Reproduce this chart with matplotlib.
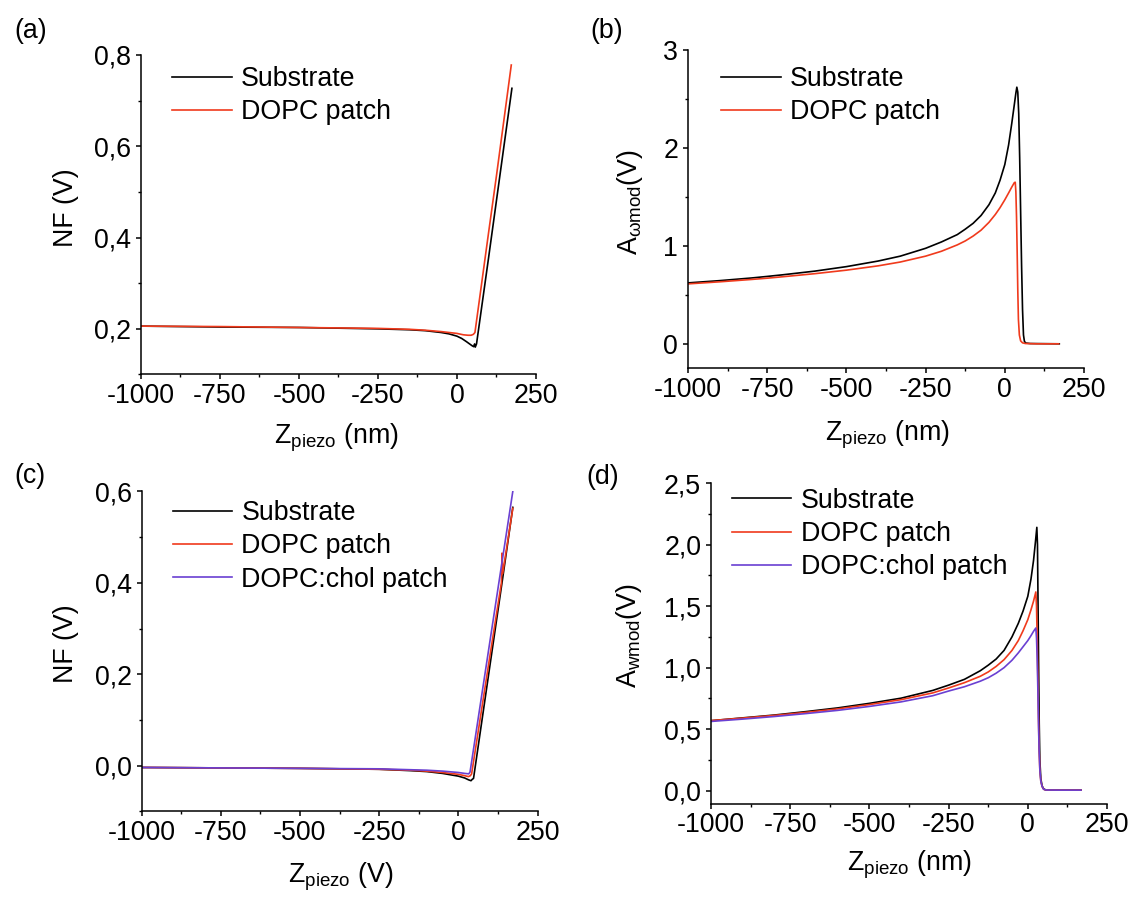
import matplotlib
matplotlib.use("Agg")
import matplotlib.pyplot as plt
from matplotlib.ticker import FuncFormatter

plt.rcParams.update({
    "font.family": ["Liberation Sans", "DejaVu Sans"],
    "mathtext.fontset": "custom",
    "mathtext.rm": "Liberation Sans",
    "mathtext.it": "Liberation Sans:italic",
    "mathtext.bf": "Liberation Sans:bold",
    "axes.unicode_minus": False,
})

FS = 19.3
BLACK = "#000000"
RED = "#F03A1C"
PURPLE = "#6A40D2"

# ---------------- data ----------------
x_ticks = [-1000, -750, -500, -250, 0, 250]
x_minor = [-875, -625, -375, -125, 125]
series_labels = ["Substrate", "DOPC patch", "DOPC:chol patch"]

# (a) normal force, substrate vs DOPC patch
a_sub_x = [-1000, -750, -500, -250, -150, -100, -50, -25, 0, 15, 30, 40, 48, 53, 56, 58, 62, 100, 134, 174]
a_sub_y = [0.206, 0.204, 0.203, 0.200, 0.198, 0.196, 0.192, 0.189, 0.184, 0.179, 0.172, 0.167, 0.163, 0.161,
           0.167, 0.160, 0.167, 0.355, 0.526, 0.727]
a_dopc_x = [-1000, -750, -500, -250, -150, -100, -50, 0, 20, 35, 45, 52, 57, 100, 125, 172]
a_dopc_y = [0.206, 0.205, 0.203, 0.201, 0.199, 0.197, 0.194, 0.190, 0.187, 0.186, 0.186, 0.188, 0.192,
            0.410, 0.535, 0.778]
a_yticks = [0.2, 0.4, 0.6, 0.8]
a_yminor = [0.1, 0.3, 0.5, 0.7]

# (b) modulation amplitude, substrate vs DOPC patch
b_sub_x = [-1000, -900, -800, -750, -700, -600, -500, -400, -330, -250, -200, -150, -125, -100, -75, -50, -30,
           -15, 0, 12, 22, 30, 35, 38, 41, 44, 47, 50, 53, 56, 59, 62, 66, 80, 172]
b_sub_y = [0.622, 0.645, 0.672, 0.688, 0.705, 0.742, 0.788, 0.845, 0.895, 0.975, 1.04, 1.115, 1.17, 1.23, 1.31,
           1.42, 1.54, 1.67, 1.83, 2.03, 2.25, 2.44, 2.56, 2.62, 2.57, 2.35, 1.90, 1.35, 0.80, 0.35, 0.09, 0.025,
           0.008, 0.003, 0.0]
b_dopc_x = [-1000, -900, -800, -750, -700, -600, -500, -400, -330, -250, -200, -150, -125, -100, -75, -50, -30,
            -15, 0, 12, 22, 30, 33, 35, 37, 39, 41, 43, 46, 50, 56, 65, 100, 170]
b_dopc_y = [0.612, 0.633, 0.657, 0.670, 0.685, 0.716, 0.752, 0.796, 0.835, 0.895, 0.945, 1.01, 1.05, 1.10, 1.16,
            1.24, 1.32, 1.39, 1.47, 1.54, 1.60, 1.645, 1.65, 1.55, 1.30, 0.95, 0.55, 0.25, 0.09, 0.03, 0.01,
            0.003, 0.0, 0.0]
b_yticks = [0, 1, 2, 3]
b_yminor = [-0.5, 0.5, 1.5, 2.5]

# (c) normal force, three surfaces
c_sub_x = [-1000, -750, -500, -250, -150, -100, -50, 0, 20, 32, 40, 44, 48, 100, 140, 172]
c_sub_y = [-0.004, -0.005, -0.006, -0.008, -0.011, -0.013, -0.017, -0.023, -0.027, -0.031, -0.033, -0.030,
           -0.028, 0.220, 0.410, 0.565]
c_dopc_x = [-1000, -750, -500, -250, -150, -100, -50, 0, 20, 32, 38, 42, 100, 136, 138, 140, 172]
c_dopc_y = [-0.004, -0.005, -0.006, -0.008, -0.010, -0.012, -0.015, -0.019, -0.022, -0.024, -0.022, -0.018,
            0.241, 0.400, 0.465, 0.420, 0.563]
c_chol_x = [-1000, -750, -500, -250, -150, -100, -50, 0, 20, 33, 37, 100, 172]
c_chol_y = [-0.004, -0.005, -0.006, -0.007, -0.009, -0.010, -0.012, -0.015, -0.017, -0.018, -0.014, 0.273, 0.600]
c_yticks = [0.0, 0.2, 0.4, 0.6]
c_yminor = [-0.1, 0.1, 0.3, 0.5]

# (d) modulation amplitude, three surfaces
d_sub_x = [-1000, -900, -800, -750, -700, -600, -500, -400, -300, -250, -200, -150, -125, -100, -75, -50, -30,
           -15, 0, 10, 18, 24, 28.5, 30.5, 32, 34, 36, 38, 41, 45, 50, 57, 100, 168]
d_sub_y = [0.569, 0.592, 0.615, 0.629, 0.643, 0.673, 0.710, 0.752, 0.815, 0.858, 0.905, 0.975, 1.02, 1.07, 1.14,
           1.25, 1.36, 1.46, 1.58, 1.72, 1.87, 2.02, 2.14, 2.00, 1.60, 1.05, 0.55, 0.25, 0.10, 0.04, 0.015,
           0.006, 0.005, 0.005]
d_dopc_x = [-1000, -900, -800, -750, -700, -600, -500, -400, -300, -250, -200, -150, -125, -100, -75, -50, -30,
            -15, 0, 10, 18, 25.3, 27.5, 29.5, 31.5, 33.5, 35.5, 38, 41, 45, 50, 57, 100, 168]
d_dopc_y = [0.570, 0.590, 0.612, 0.624, 0.637, 0.665, 0.700, 0.740, 0.795, 0.835, 0.878, 0.930, 0.965, 1.01,
            1.065, 1.14, 1.22, 1.30, 1.39, 1.47, 1.54, 1.615, 1.50, 1.25, 0.95, 0.62, 0.35, 0.17, 0.08, 0.035,
            0.012, 0.006, 0.005, 0.005]
d_chol_x = [-1000, -900, -800, -750, -700, -600, -500, -400, -300, -250, -200, -150, -125, -100, -75, -50, -30,
            -15, 0, 10, 18, 25.3, 27.5, 29.5, 31.5, 33.5, 35.5, 38, 41, 45, 50, 57, 100, 168]
d_chol_y = [0.563, 0.582, 0.603, 0.615, 0.627, 0.653, 0.685, 0.722, 0.772, 0.810, 0.845, 0.890, 0.918, 0.955,
            1.000, 1.060, 1.12, 1.17, 1.22, 1.26, 1.295, 1.322, 1.24, 1.08, 0.85, 0.58, 0.34, 0.17, 0.08, 0.035,
            0.012, 0.006, 0.005, 0.005]
d_yticks = [0.0, 0.5, 1.0, 1.5, 2.0, 2.5]
d_yminor = [-0.25, 0.25, 0.75, 1.25, 1.75, 2.25]


def comma_fmt(decimals):
    return FuncFormatter(lambda v, p: f"{v:.{decimals}f}".replace(".", ","))


def style_axis(ax, ylim, yticks, yminor, decimals):
    ax.set_xlim(-1000, 250)
    ax.set_ylim(*ylim)
    ax.set_xticks(x_ticks)
    ax.set_xticks(x_minor, minor=True)
    ax.set_yticks(yticks)
    ax.set_yticks([v for v in yminor if ylim[0] <= v <= ylim[1]], minor=True)
    ax.yaxis.set_major_formatter(comma_fmt(decimals))
    ax.xaxis.set_major_formatter(FuncFormatter(lambda v, p: f"{v:.0f}"))
    for s in ("top", "right"):
        ax.spines[s].set_visible(False)
    for s in ("left", "bottom"):
        ax.spines[s].set_linewidth(1.1)
    ax.tick_params(which="major", direction="out", length=3.6, width=1.1, labelsize=FS)
    ax.tick_params(which="minor", direction="out", length=2.4, width=1.0)
    ax.tick_params(axis="x", which="major", pad=2.5)
    ax.tick_params(axis="y", which="major", pad=3.5)


def add_legend(ax, x, y):
    ax.legend(loc="center left", bbox_to_anchor=(x, y), frameon=False, fontsize=FS,
              handlelength=2.22, handletextpad=0.34, labelspacing=0.27,
              borderpad=0, borderaxespad=0)


fig = plt.figure(figsize=(11.34, 8.97), dpi=100)
ax_a = fig.add_axes([0.1243, 0.5825, 0.3483, 0.3562])
ax_b = fig.add_axes([0.6067, 0.5894, 0.3492, 0.3549])
ax_c = fig.add_axes([0.1248, 0.0955, 0.3492, 0.3567])
ax_d = fig.add_axes([0.6270, 0.1042, 0.3492, 0.3573])

LW = 1.2

# (a)
ax_a.plot(a_sub_x, a_sub_y, color=BLACK, lw=LW, label=series_labels[0])
ax_a.plot(a_dopc_x, a_dopc_y, color=RED, lw=LW, label=series_labels[1])
style_axis(ax_a, (0.1, 0.8), a_yticks, a_yminor, 1)
add_legend(ax_a, 0.0787, 0.8726)

# (b)
ax_b.plot(b_sub_x, b_sub_y, color=BLACK, lw=LW, label=series_labels[0])
ax_b.plot(b_dopc_x, b_dopc_y, color=RED, lw=LW, label=series_labels[1])
style_axis(ax_b, (-0.25, 3.0), b_yticks, b_yminor, 0)
add_legend(ax_b, 0.0836, 0.8564)

# (c)
ax_c.plot(c_sub_x, c_sub_y, color=BLACK, lw=LW, label=series_labels[0])
ax_c.plot(c_dopc_x, c_dopc_y, color=RED, lw=LW, label=series_labels[1])
ax_c.plot(c_chol_x, c_chol_y, color=PURPLE, lw=LW, label=series_labels[2])
style_axis(ax_c, (-0.1, 0.6), c_yticks, c_yminor, 1)
add_legend(ax_c, 0.079, 0.828)

# (d)
ax_d.plot(d_sub_x, d_sub_y, color=BLACK, lw=LW, label=series_labels[0])
ax_d.plot(d_dopc_x, d_dopc_y, color=RED, lw=LW, label=series_labels[1])
ax_d.plot(d_chol_x, d_chol_y, color=PURPLE, lw=LW, label=series_labels[2])
style_axis(ax_d, (-0.104, 2.5), d_yticks, d_yminor, 1)
add_legend(ax_d, 0.0528, 0.8409)

# axis titles
xlab_nm = r"Z$_{\mathregular{piezo}}$ (nm)"
xlab_v = r"Z$_{\mathregular{piezo}}$ (V)"
ax_a.text(0.494, -0.216, xlab_nm, transform=ax_a.transAxes, ha="center", va="baseline", fontsize=FS)
ax_b.text(0.5025, -0.2275, xlab_nm, transform=ax_b.transAxes, ha="center", va="baseline", fontsize=FS)
ax_c.text(0.504, -0.221, xlab_v, transform=ax_c.transAxes, ha="center", va="baseline", fontsize=FS)
ax_d.text(0.5, -0.2075, xlab_nm, transform=ax_d.transAxes, ha="center", va="baseline", fontsize=FS)

ax_a.text(-0.191, 0.523, "NF (V)", transform=ax_a.transAxes, rotation=90, ha="center", va="center", fontsize=FS)
ax_b.text(-0.146, 0.521, r"A$_{\mathregular{ωmod}}$(V)", transform=ax_b.transAxes, rotation=90,
          ha="center", va="center", fontsize=FS)
ax_c.text(-0.191, 0.523, "NF (V)", transform=ax_c.transAxes, rotation=90, ha="center", va="center", fontsize=FS)
ax_d.text(-0.207, 0.5226, r"A$_{\mathregular{wmod}}$(V)", transform=ax_d.transAxes, rotation=90,
          ha="center", va="center", fontsize=FS)

# panel letters
fig.text(0.0123, 0.9649, "(a)", ha="left", va="center", fontsize=FS)
fig.text(0.5206, 0.9649, "(b)", ha="left", va="center", fontsize=FS)
fig.text(0.0127, 0.4688, "(c)", ha="left", va="center", fontsize=FS)
fig.text(0.5175, 0.4682, "(d)", ha="left", va="center", fontsize=FS)

fig.savefig("out.png", dpi=100, facecolor="white")
